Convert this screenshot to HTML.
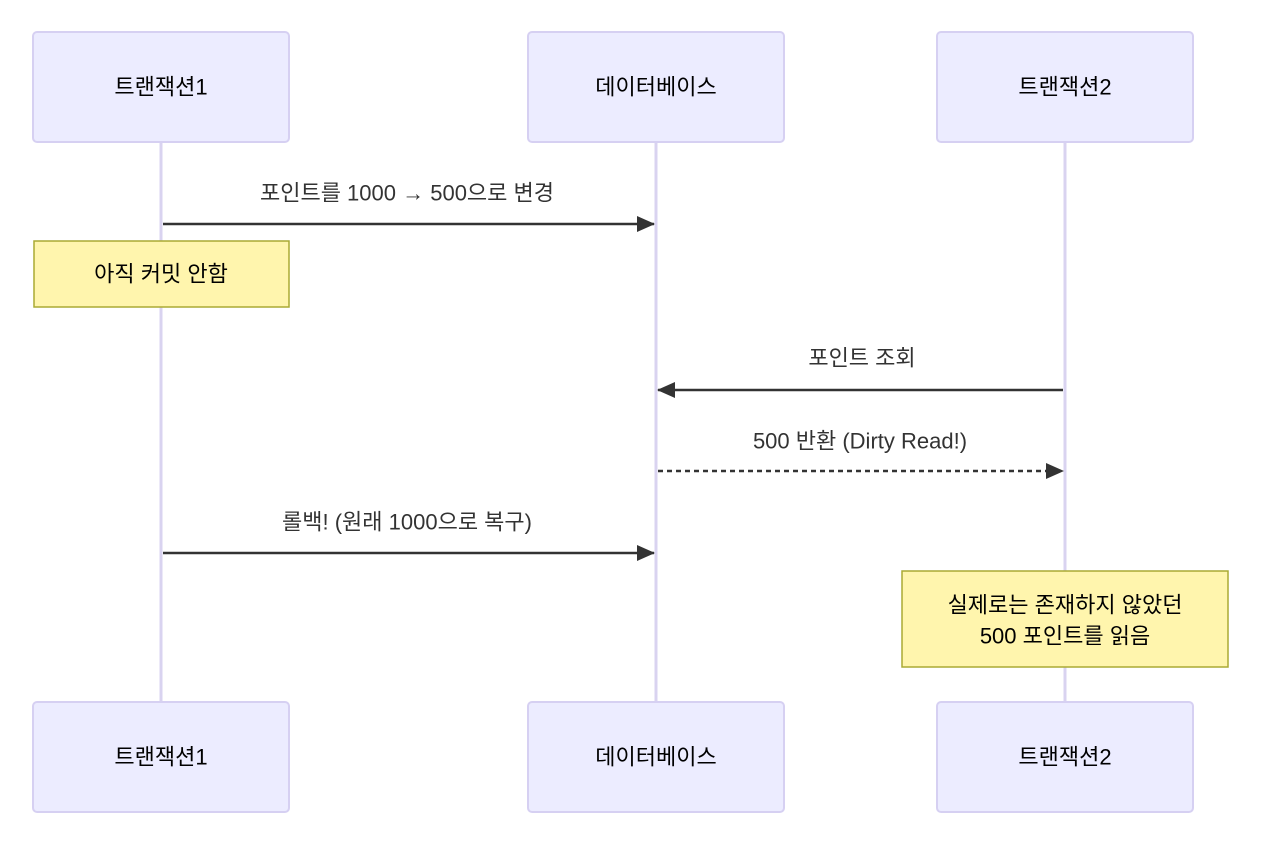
<!DOCTYPE html>
<html><head><meta charset="utf-8"><style>
html,body{margin:0;padding:0;background:#fff;}
svg{display:block;}
text{font-family:"Liberation Sans","Noto Sans CJK KR",sans-serif;font-size:22px;text-anchor:middle;dominant-baseline:central;}
</style></head><body>
<svg width="1261" height="854" viewBox="0 0 1261 854" xmlns="http://www.w3.org/2000/svg">
<defs>
<marker id="ah" markerWidth="12" markerHeight="12" refX="11" refY="6" orient="auto" markerUnits="userSpaceOnUse" viewBox="0 0 12 12"><path d="M0,0 L12,6 L0,12 z" fill="#333"/></marker>
<marker id="ah2" markerWidth="18" markerHeight="16" refX="17" refY="8" orient="auto" markerUnits="userSpaceOnUse" viewBox="0 0 18 16"><path d="M0,0 L18,8 L0,16 z" fill="#333"/></marker>
</defs>
<g stroke="#d9d3f0" stroke-width="3">
<line x1="161" y1="142" x2="161" y2="702"/>
<line x1="656" y1="142" x2="656" y2="702"/>
<line x1="1065" y1="142" x2="1065" y2="702"/>
</g>
<g fill="#ececff" stroke="#d6d0f2" stroke-width="2">
<rect x="33" y="32" width="256" height="110" rx="4"/>
<rect x="528" y="32" width="256" height="110" rx="4"/>
<rect x="937" y="32" width="256" height="110" rx="4"/>
<rect x="33" y="702" width="256" height="110" rx="4"/>
<rect x="528" y="702" width="256" height="110" rx="4"/>
<rect x="937" y="702" width="256" height="110" rx="4"/>
</g>
<g fill="#000">
<text x="161" y="87">트랜잭션1</text>
<text x="656" y="87">데이터베이스</text>
<text x="1065" y="87">트랜잭션2</text>
<text x="161" y="757">트랜잭션1</text>
<text x="656" y="757">데이터베이스</text>
<text x="1065" y="757">트랜잭션2</text>
</g>
<g stroke="#333" stroke-width="2.5" fill="none">
<line x1="163" y1="224" x2="654" y2="224" marker-end="url(#ah2)"/>
<line x1="1063" y1="390" x2="658" y2="390" marker-end="url(#ah2)"/>
<line x1="658" y1="471" x2="1063" y2="471" stroke-dasharray="5,4" marker-end="url(#ah2)"/>
<line x1="163" y1="553" x2="654" y2="553" marker-end="url(#ah2)"/>
</g>
<g fill="#333">
<text x="407" y="193">포인트를 1000 → 500으로 변경</text>
<text x="862" y="358">포인트 조회</text>
<text x="860" y="441">500 반환 (Dirty Read!)</text>
<text x="407" y="522">롤백! (원래 1000으로 복구)</text>
</g>
<g fill="#fff5ad" stroke="#aaaa33" stroke-width="1.5">
<rect x="34" y="241" width="255" height="66"/>
<rect x="902" y="571" width="326" height="96"/>
</g>
<g fill="#000">
<text x="161" y="274">아직 커밋 안함</text>
<text x="1065" y="605">실제로는 존재하지 않았던</text>
<text x="1065" y="636">500 포인트를 읽음</text>
</g>
</svg>
</body></html>
